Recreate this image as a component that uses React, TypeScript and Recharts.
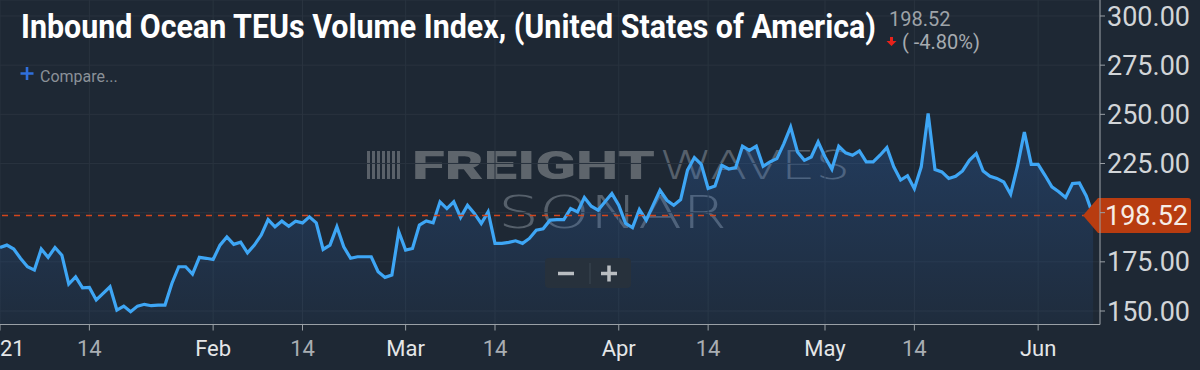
import { AreaChart, Area, XAxis, YAxis, CartesianGrid, ReferenceLine } from 'recharts'

// daily index values, 2021
const janValues = [182.3, 183.5, 181.5, 176.7, 172.5, 170.8, 181.5, 177.3, 182.3, 178.4, 163.7, 167.4, 161.8, 162.0, 155.6, 159.0, 162.3, 150.5, 152.5, 149.6, 152.5, 153.4, 152.7, 153.0, 153.0, 164.0, 172.5, 172.5, 168.8, 177.3, 176.8]
const febValues = [176.2, 183.5, 187.7, 183.9, 185.0, 179.6, 183.5, 188.6, 196.5, 192.8, 195.7, 193.1, 195.7, 194.8, 197.9, 194.8, 181.3, 183.5, 192.8, 182.6, 176.8, 177.6, 177.6, 177.6, 170.0, 167.1, 168.3, 190.3]
const marValues = [181.0, 181.8, 193.7, 195.8, 194.8, 205.5, 202.1, 205.5, 197.6, 203.8, 199.6, 194.5, 200.4, 184.4, 184.4, 184.9, 185.7, 184.4, 186.9, 191.1, 191.8, 196.2, 196.5, 196.5, 202.1, 200.4, 207.7, 203.3, 201.3, 205.5, 209.7]
const aprValues = [203.8, 194.5, 192.4, 201.6, 196.2, 203.8, 211.4, 206.3, 203.8, 206.7, 221.6, 228.0, 224.6, 212.3, 213.5, 224.1, 222.2, 222.9, 233.8, 231.7, 233.8, 223.6, 225.8, 227.5, 235.0, 243.6, 230.9, 226.6, 228.3, 236.0]
const mayValues = [228.3, 222.1, 233.8, 230.4, 229.2, 231.4, 225.8, 225.8, 229.2, 233.1, 223.3, 216.6, 218.8, 212.2, 223.3, 250.4, 221.9, 220.7, 217.4, 218.5, 221.2, 226.6, 230.0, 221.2, 218.5, 217.4, 215.6, 209.4, 223.6, 241.0, 224.6]
const junValues = [224.6, 219.0, 213.1, 210.6, 207.7, 214.8, 215.1, 208.5, 198.52]

const lastValue = 198.52
const changeText = '( -4.80%)'

const xTicks = [0, 13, 31, 44, 59, 72, 90, 103, 120, 133, 151]
const xTickLabels = ['2021', '14', 'Feb', '14', 'Mar', '14', 'Apr', '14', 'May', '14', 'Jun']
const yTicks = [150, 175, 200, 225, 250, 275, 300]

const monthSeries = [janValues, febValues, marValues, aprValues, mayValues, junValues]
const DAY = 86400000
const start = Date.UTC(2021, 0, 1)
const data = monthSeries.flatMap((vals, m) =>
  vals.map((value, i) => ({ day: (Date.UTC(2021, m, i + 1) - start) / DAY, value }))
)

const BG = '#1e2834'
const GRID = '#29333f'
const AXIS = '#9aa0a6'
const LINE = '#3ea6f5'
const TAG = '#b83c10'

function XTick({ x, y, payload }: any) {
  const label = xTickLabels[xTicks.indexOf(payload.value)]
  const bright = label !== '14'
  return (
    <text x={x} y={y} dy="0.71em" textAnchor="middle" fontSize={22} fontFamily="Roboto"
      fill={bright ? '#e4e6e8' : '#a9aeb3'}>{label}</text>
  )
}

function YTick({ x, y, payload }: any) {
  // 200.00 sits under the price tag
  if (payload.value === 200) return <g />
  return (
    <text x={x} y={y} dy="0.355em" fontSize={27} fontFamily="Roboto" fill="#d2d5d8">
      {payload.value.toFixed(2)}
    </text>
  )
}

function PriceTag({ viewBox }: any) {
  const x = viewBox.x + viewBox.width
  const y = viewBox.y
  const d = `M${x - 17},${y} L${x - 2},${y - 17.5} L${x + 88},${y - 17.5} Q${x + 91},${y - 17.5} ${x + 91},${y - 14.5}
    L${x + 91},${y + 14.5} Q${x + 91},${y + 17.5} ${x + 88},${y + 17.5} L${x - 2},${y + 17.5} Z`
  return (
    <g>
      <path d={d} fill={TAG} />
      <text x={x + 5} y={y} dy="0.355em" fontSize={27} fontFamily="Roboto" fill="#f6ece6">
        {lastValue.toFixed(2)}
      </text>
    </g>
  )
}

function Watermark() {
  return (
    <svg width={1200} height={370} style={{ position: 'absolute', left: 0, top: 0 }}>
      {[0, 1, 2, 3, 4, 5, 6].map(i => (
        <rect key={i} x={367 + i * 5} y={151} width={3} height={28} fill="#5a6169" />
      ))}
      <text x={412} y={179} fontSize={39} fontWeight={900} fontFamily="Roboto" fill="#5e656c"
        textLength={243} lengthAdjust="spacingAndGlyphs">FREIGHT</text>
      <text x={659} y={179} fontSize={39} fontWeight={200} fontFamily="DejaVu Sans" fill="#56606b"
        textLength={191} lengthAdjust="spacingAndGlyphs">WAVES</text>
      <text x={498} y={228} fontSize={44} fontWeight={200} fontFamily="DejaVu Sans" fill="#56606b"
        textLength={229} lengthAdjust="spacingAndGlyphs">SONAR</text>
    </svg>
  )
}

function Overlay() {
  return (
    <svg width={1200} height={370} style={{ position: 'absolute', left: 0, top: 0, pointerEvents: 'none' }}>
      <text x={21} y={37.5} fontSize={34} fontWeight={700} fontFamily="Roboto" fill="#ffffff"
        textLength={855} lengthAdjust="spacingAndGlyphs">
        Inbound Ocean TEUs Volume Index, (United States of America)
      </text>
      <text x={889} y={26} fontSize={20} fontFamily="Roboto" fill="#9ea3a8">{lastValue.toFixed(2)}</text>
      <path d="M890,37 h3 v4 h3.5 l-5,5 l-5,-5 h3.5 z" fill="#e8221b" />
      <text x={902} y={49} fontSize={20} fontFamily="Roboto" fill="#a6abb0">{changeText}</text>

      <path d="M20.5,73.5 h13 M27,67 v13" stroke="#2f6fdc" strokeWidth={2.6} />
      <text x={40} y={82} fontSize={16} fontFamily="Roboto" fill="#8b9198">Compare...</text>

      <rect x={545} y={258} width={86} height={30} rx={4} fill="#27313c" />
      <path d="M558,273.5 h16" stroke="#b9bdc1" strokeWidth={3.5} />
      <path d="M590,263 v21" stroke="#36404b" strokeWidth={1.5} />
      <path d="M601,273.5 h16 M609,265.5 v16" stroke="#b9bdc1" strokeWidth={3.5} />
    </svg>
  )
}

export default function App() {
  return (
    <div style={{ position: 'absolute', left: 0, top: 0, width: 1200, height: 370, background: BG, fontFamily: 'Roboto', overflow: 'hidden' }}>
      <Watermark />
      <div style={{ position: 'absolute', left: 0, top: 0 }}>
        <AreaChart width={1200} height={370} data={data} margin={{ top: 0, right: 0, bottom: 0, left: 0 }}>
          <defs>
            <linearGradient id="areaFill" x1="0" y1="0" x2="0" y2="1">
              <stop offset="0%" stopColor="#2d6ec8" stopOpacity={0.5} />
              <stop offset="100%" stopColor="#2d6ec8" stopOpacity={0.1} />
            </linearGradient>
          </defs>
          <CartesianGrid stroke={GRID} />
          <XAxis dataKey="day" type="number" domain={[0, 160]} ticks={xTicks} interval={0}
            height={45.5} tickSize={6} tickMargin={10} tick={<XTick />}
            axisLine={{ stroke: AXIS }} tickLine={{ stroke: AXIS }} />
          <YAxis orientation="right" width={100} domain={[143.14, 308.13]} ticks={yTicks}
            allowDataOverflow tickSize={5} tickMargin={2} tick={<YTick />}
            axisLine={{ stroke: AXIS }} tickLine={{ stroke: AXIS }} />
          <Area type="linear" dataKey="value" stroke={LINE} strokeWidth={3.2} fill="url(#areaFill)"
            dot={false} activeDot={false} isAnimationActive={false} />
          <ReferenceLine y={lastValue} stroke="#d2461c" strokeWidth={1.5} strokeDasharray="6 6"
            strokeOpacity={1} label={<PriceTag />} />
        </AreaChart>
      </div>
      <Overlay />
    </div>
  )
}
